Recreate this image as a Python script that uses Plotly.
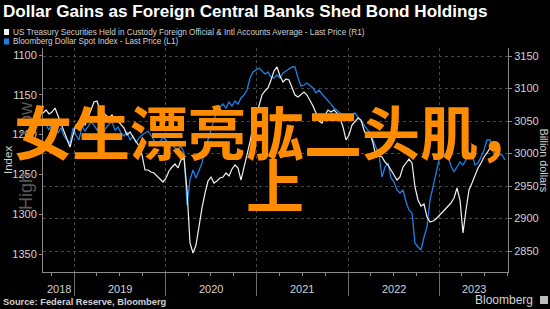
import pandas as pd
import plotly.graph_objects as go

# ---------------- data ----------------
treasury_custody_bn = [
    3062.3, 3066.9, 3060.8, 3063.8, 3070.0, 3057.7, 3043.8, 3033.1, 3020.8, 3010.0,
    3028.5, 3043.8, 3039.2, 3048.5, 3043.8, 3054.6, 3066.9, 3079.2, 3080.8, 3066.9,
    3062.3, 3057.7, 3054.6, 3059.2, 3051.5, 3050.0, 3043.8, 3039.2, 3028.5, 3033.1,
    3025.4, 3019.2, 3011.5, 2997.7, 2974.6, 2974.6, 2971.5, 2970.0, 2965.4, 2960.8,
    2956.2, 2962.3, 2973.1, 2979.2, 2983.8, 2977.7, 2990.0, 2993.1, 2943.8, 2862.3,
    2846.9, 2859.2, 2890.0, 2916.2, 2939.2, 2957.7, 2963.8, 2954.6, 2957.7, 2962.3,
    2963.8, 2970.0, 2965.4, 2976.2, 2982.3, 2977.7, 2959.2, 2977.7, 2994.6, 3017.7,
    3040.8, 3056.2, 3074.6, 3090.0, 3096.2, 3100.8, 3113.1, 3126.9, 3133.1, 3119.2,
    3110.0, 3114.6, 3113.1, 3100.8, 3090.0, 3086.9, 3091.5, 3094.6, 3090.0, 3082.3,
    3073.1, 3062.3, 3050.0, 3046.9, 3059.2, 3066.9, 3063.8, 3066.9, 3062.3, 3054.6,
    3040.8, 3020.8, 3028.5, 3043.8, 3050.0, 3054.6, 3051.5, 3036.2, 3025.4, 3031.5,
    3016.2, 2994.6, 2996.2, 2994.6, 2986.9, 2982.3, 2974.6, 2966.9, 2959.2, 2963.8,
    2979.2, 2985.4, 2991.5, 2985.4, 2948.5, 2928.5, 2919.2, 2922.3, 2902.3, 2894.6,
    2896.2, 2899.2, 2903.8, 2908.5, 2913.1, 2919.2, 2923.8, 2931.5, 2946.9, 2928.5,
    2877.7, 2913.1, 2943.8, 2954.6, 2966.9, 2977.7, 2985.4, 2994.6, 3000.8, 3008.5,
    3016.2, 3017.7,
]
dollar_index = [
    1181.7, 1187.9, 1194.2, 1184.2, 1190.5, 1198.0, 1191.7, 1201.8, 1206.8, 1210.6,
    1191.7, 1200.5, 1206.8, 1189.2, 1195.5, 1190.5, 1184.2, 1187.9, 1194.2, 1189.2,
    1198.0, 1191.7, 1186.7, 1184.2, 1194.2, 1190.5, 1198.0, 1201.8, 1196.7, 1206.8,
    1201.8, 1210.6, 1204.3, 1200.5, 1198.0, 1195.5, 1200.5, 1206.8, 1214.3, 1209.3,
    1203.0, 1206.8, 1213.1, 1209.3, 1216.8, 1219.3, 1214.3, 1223.1, 1288.4, 1257.0,
    1244.5, 1254.5, 1244.5, 1235.7, 1219.3, 1206.8, 1194.2, 1181.7, 1169.1, 1165.3,
    1161.6, 1166.6, 1159.0, 1164.1, 1157.8, 1161.6, 1154.0, 1150.3, 1144.0, 1128.9,
    1121.4, 1118.8, 1116.3, 1120.1, 1123.9, 1121.4, 1127.6, 1128.9, 1125.1, 1128.9,
    1122.6, 1120.1, 1117.6, 1115.1, 1115.1, 1128.9, 1138.9, 1137.7, 1135.2, 1138.9,
    1141.5, 1147.7, 1144.0, 1149.0, 1152.8, 1156.5, 1161.6, 1166.6, 1170.4, 1172.9,
    1175.4, 1177.9, 1179.1, 1175.4, 1172.9, 1177.9, 1182.9, 1189.2, 1194.2, 1198.0,
    1206.8, 1216.8, 1225.6, 1253.3, 1240.7, 1235.7, 1254.5, 1259.5, 1269.6, 1273.4,
    1269.6, 1284.7, 1294.7, 1298.5, 1336.2, 1341.2, 1345.0, 1328.6, 1316.1, 1282.2,
    1265.8, 1247.0, 1231.9, 1225.6, 1224.4, 1226.9, 1239.4, 1247.0, 1240.7, 1234.4,
    1238.2, 1231.9, 1221.9, 1225.6, 1238.2, 1235.7, 1228.1, 1219.3, 1206.8, 1206.8,
    1221.9, 1228.1, 1225.6, 1225.6, 1231.9,
]
series_start = "2018-08-30"
sample_step = "12D"
left_ticks = [1100, 1150, 1200, 1250, 1300, 1350]
right_ticks = [2850, 2900, 2950, 3000, 3050, 3100, 3150]
year_labels = ["2018", "2019", "2020", "2021", "2022", "2023"]
year_label_dates = ["2018-10-31", "2019-07-02", "2020-07-02", "2021-07-02", "2022-07-02", "2023-05-18"]
x_range = ["2018-08-30", "2023-10-03"]

title = "Dollar Gains as Foreign Central Banks Shed Bond Holdings"
legend_r1 = "US Treasury Securities Held in Custody Foreign Official & Intl Accounts Average - Last Price (R1)"
legend_l1 = "Bloomberg Dollar Spot Index - Last Price (L1)"
source = "Source: Federal Reserve, Bloomberg"
overlay_1 = "女生漂亮肱二头肌，"
overlay_2 = "上"

# ---------------- figure ----------------
W, H = 550, 309
L, R, T, B = 43, 42, 48, 37
PW, PH = W - L - R, H - T - B

def px(x):
    return (x - L) / PW

def py(y):
    return (H - B - y) / PH

white_dates = pd.date_range(series_start, periods=len(treasury_custody_bn), freq=sample_step)
blue_dates = pd.date_range(series_start, periods=len(dollar_index), freq=sample_step)

BLUE = "#1e80e6"
GRID = "#474747"
AXIS = "#8a8a8a"
TXT = "#d2d2d2"
FONT = "Liberation Sans"

fig = go.Figure()
fig.add_trace(go.Scatter(x=blue_dates, y=dollar_index, mode="lines",
                         line=dict(color=BLUE, width=1.3), yaxis="y", showlegend=False))
fig.add_trace(go.Scatter(x=white_dates, y=treasury_custody_bn, mode="lines",
                         line=dict(color="#f2f2f2", width=1.2), yaxis="y2", showlegend=False))

fig.update_layout(
    width=W, height=H,
    margin=dict(l=L, r=R, t=T, b=B, pad=0),
    paper_bgcolor="black", plot_bgcolor="black",
    font=dict(family=FONT, color=TXT, size=11),
    xaxis=dict(
        type="date", range=x_range,
        tick0="2019-01-01", dtick="M12",
        ticks="outside", ticklen=23, tickcolor="#6e6e6e", tickwidth=1,
        showticklabels=False,
        showgrid=True, gridcolor=GRID, griddash="dot", gridwidth=1,
        showline=True, linecolor=AXIS, linewidth=1,
        minor=dict(dtick="M3", tick0="2019-01-01", ticks="outside", ticklen=3,
                   tickcolor=AXIS, showgrid=False),
        zeroline=False,
    ),
    yaxis=dict(
        range=[1372.6, 1091.2], tickvals=left_ticks,
        ticks="outside", ticklen=3, tickcolor=AXIS,
        tickfont=dict(size=11, color=TXT, family=FONT),
        showgrid=False, showline=True, linecolor=AXIS, linewidth=1, zeroline=False,
    ),
    yaxis2=dict(
        range=[2817.7, 3162.3], tickvals=right_ticks,
        overlaying="y", side="right",
        ticks="outside", ticklen=3, tickcolor=AXIS,
        tickfont=dict(size=11, color=TXT, family=FONT),
        showgrid=True, gridcolor=GRID, griddash="dot", gridwidth=1,
        showline=True, linecolor=AXIS, linewidth=1, zeroline=False,
    ),
)

ann = []
# title and legend
ann.append(dict(text="<b>" + title + "</b>", x=px(1), y=py(12), xref="paper", yref="paper",
                xanchor="left", yanchor="middle", showarrow=False,
                font=dict(size=17.1, color="white", family=FONT)))
ann.append(dict(text=legend_r1, x=px(11), y=py(32), xref="paper", yref="paper",
                xanchor="left", yanchor="middle", showarrow=False,
                font=dict(size=8.2, color=TXT, family=FONT)))
ann.append(dict(text=legend_l1, x=px(11), y=py(41.5), xref="paper", yref="paper",
                xanchor="left", yanchor="middle", showarrow=False,
                font=dict(size=8.2, color=TXT, family=FONT)))
# year labels
for lab, d in zip(year_labels, year_label_dates):
    ann.append(dict(text=lab, x=d, y=py(289), xref="x", yref="paper",
                    xanchor="center", yanchor="middle", showarrow=False,
                    font=dict(size=11, color=TXT, family=FONT)))
# axis titles
ann.append(dict(text="Index", x=px(8), y=py(160), xref="paper", yref="paper", textangle=-90,
                xanchor="center", yanchor="middle", showarrow=False,
                font=dict(size=11.5, color=TXT, family=FONT)))
ann.append(dict(text="Billion dollars", x=px(543.5), y=py(160), xref="paper", yref="paper", textangle=90,
                xanchor="center", yanchor="middle", showarrow=False,
                font=dict(size=10.8, color=TXT, family=FONT)))
# low / high watermarks
ann.append(dict(text="Low", x=px(26), y=py(118), xref="paper", yref="paper", textangle=-90,
                xanchor="center", yanchor="middle", showarrow=False,
                font=dict(size=18, color="#5a5a5a", family=FONT)))
ann.append(dict(text="High", x=px(26), y=py(192), xref="paper", yref="paper", textangle=-90,
                xanchor="center", yanchor="middle", showarrow=False,
                font=dict(size=18, color="#5a5a5a", family=FONT)))
# footer
ann.append(dict(text="<b>" + source + "</b>", x=px(1), y=py(302), xref="paper", yref="paper",
                xanchor="left", yanchor="middle", showarrow=False,
                font=dict(size=9.3, color=TXT, family=FONT)))
ann.append(dict(text="Bloomberg", x=px(535), y=py(300), xref="paper", yref="paper",
                xanchor="right", yanchor="middle", showarrow=False,
                font=dict(size=12, color=TXT, family=FONT)))
# orange overlay text
ann.append(dict(text=overlay_1, x=px(275), y=py(130), xref="paper", yref="paper",
                xanchor="center", yanchor="middle", showarrow=False,
                font=dict(size=58, color="#ff8c00", family="Noto Sans CJK SC", weight=700)))
ann.append(dict(text=overlay_2, x=px(275), y=py(183), xref="paper", yref="paper",
                xanchor="center", yanchor="middle", showarrow=False,
                font=dict(size=58, color="#ff8c00", family="Noto Sans CJK SC", weight=700)))
fig.update_layout(annotations=ann)

# legend swatches and footer icon
fig.add_shape(type="rect", xref="paper", yref="paper", x0=px(4), x1=px(9), y0=py(35), y1=py(29),
              fillcolor="#f2f2f2", line=dict(width=0))
fig.add_shape(type="rect", xref="paper", yref="paper", x0=px(4), x1=px(9), y0=py(44.5), y1=py(38.5),
              fillcolor=BLUE, line=dict(width=0))
fig.add_shape(type="rect", xref="paper", yref="paper", x0=px(540), x1=px(548), y0=py(304), y1=py(296),
              fillcolor="#bdbdbd", line=dict(width=0))

fig.write_html("out.html")
